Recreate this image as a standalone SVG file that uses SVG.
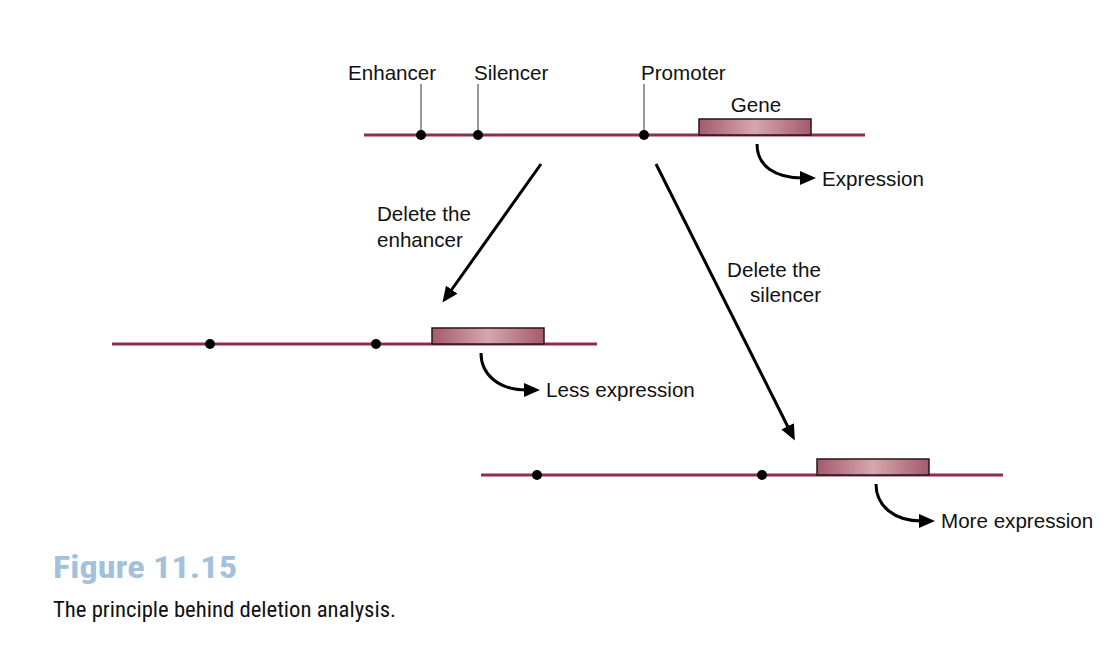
<svg xmlns="http://www.w3.org/2000/svg" width="1116" height="650" viewBox="0 0 1116 650">
<style>
.dna{stroke:#8e2c52;stroke-width:3;fill:none}
.dot{fill:#000}
.tick{stroke:#777;stroke-width:1.5}
.gene{fill:url(#g);stroke:#2a1418;stroke-width:1.5}
.lbl{font-family:"Liberation Sans",Arial,sans-serif;font-size:20.6px;fill:#111}
.arr{stroke:#000;stroke-width:3;fill:none}
.cap{font-family:"Roboto Condensed","Liberation Sans Narrow",Roboto,sans-serif}
</style>
<defs>
<linearGradient id="g" x1="0" x2="1" y1="0" y2="0">
<stop offset="0" stop-color="#a45a6e"/>
<stop offset="0.5" stop-color="#d6a7ad"/>
<stop offset="1" stop-color="#a45a6e"/>
</linearGradient>
<marker id="ah2" viewBox="0 0 16 14" refX="3" refY="7" markerWidth="16" markerHeight="14" markerUnits="userSpaceOnUse" orient="auto">
<path d="M0,0 L16,7 L0,14 z" fill="#000"/>
</marker>
</defs>

<g id="top-dna">
<line class="tick" x1="421" y1="84" x2="421" y2="135"/>
<line class="tick" x1="478" y1="84" x2="478" y2="135"/>
<line class="tick" x1="644" y1="84" x2="644" y2="135"/>
<line class="dna" x1="364" y1="135" x2="865" y2="135"/>
<circle class="dot" cx="421" cy="135" r="5"/>
<circle class="dot" cx="478" cy="135" r="5"/>
<circle class="dot" cx="644" cy="135" r="5"/>
<rect class="gene" x="699" y="119" width="112" height="16"/>
<text class="lbl" x="348" y="80">Enhancer</text>
<text class="lbl" x="474" y="80">Silencer</text>
<text class="lbl" x="641" y="80">Promoter</text>
<text class="lbl" x="756" y="112" text-anchor="middle">Gene</text>
<path class="arr" d="M757,144 C757,166 775,178 803,178" marker-end="url(#ah2)"/>
<text class="lbl" x="822" y="186">Expression</text>
</g>

<g id="mid-dna">
<line class="dna" x1="112" y1="344" x2="597" y2="344"/>
<circle class="dot" cx="210" cy="344" r="5"/>
<circle class="dot" cx="376" cy="344" r="5"/>
<rect class="gene" x="432" y="328" width="112" height="16"/>
<path class="arr" d="M481,353 C481,375 499,390 527,390" marker-end="url(#ah2)"/>
<text class="lbl" x="546" y="397">Less expression</text>
</g>

<g id="bot-dna">
<line class="dna" x1="481" y1="475" x2="1003" y2="475"/>
<circle class="dot" cx="537" cy="475" r="5"/>
<circle class="dot" cx="762" cy="475" r="5"/>
<rect class="gene" x="817" y="459" width="112" height="16"/>
<path class="arr" d="M876,484 C876,506 894,521 922,521" marker-end="url(#ah2)"/>
<text class="lbl" x="941" y="528">More expression</text>
</g>

<g id="connectors">
<line class="arr" x1="541" y1="164" x2="450" y2="292" stroke-width="2.5" marker-end="url(#ah2)"/>
<line class="arr" x1="656" y1="164" x2="789" y2="429" stroke-width="2.5" marker-end="url(#ah2)"/>
<text class="lbl" x="377" y="221">Delete the</text>
<text class="lbl" x="377" y="247">enhancer</text>
<text class="lbl" x="821" y="277" text-anchor="end">Delete the</text>
<text class="lbl" x="821" y="302" text-anchor="end">silencer</text>
</g>

<g id="caption">
<text class="cap" x="53" y="578" font-size="31" font-weight="bold" fill="#a3c0dd" textLength="184" lengthAdjust="spacingAndGlyphs">Figure 11.15</text>
<text class="cap" x="53" y="617" font-size="22" fill="#111" textLength="343" lengthAdjust="spacingAndGlyphs">The principle behind deletion analysis.</text>
</g>
</svg>
